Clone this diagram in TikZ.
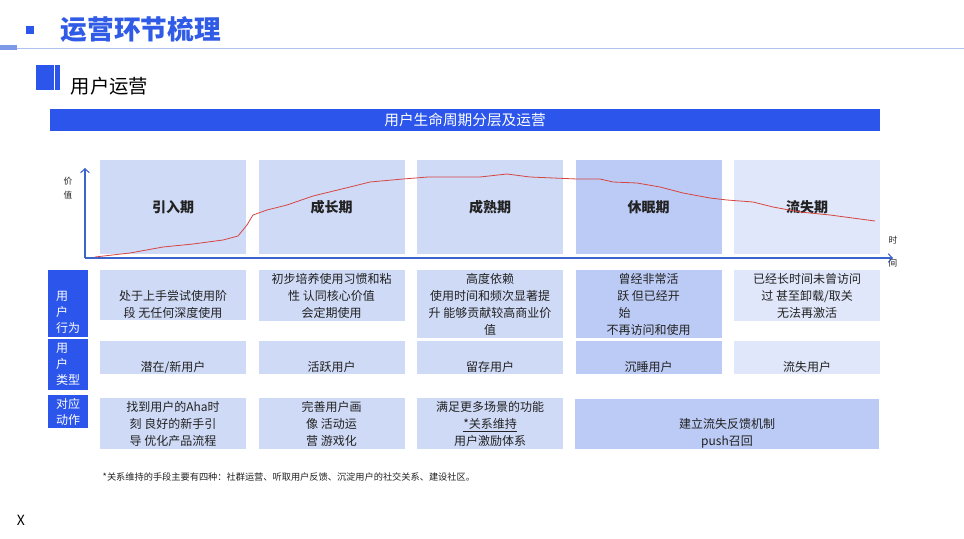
\documentclass[tikz,border=0pt]{standalone}
\usepackage{fontspec}
\setmainfont{Noto Sans CJK SC}
\usetikzlibrary{arrows.meta, positioning}
\definecolor{mainblue}{HTML}{2B55EB}
\definecolor{titleblue}{HTML}{2F5BE6}
\definecolor{softblue}{HTML}{CFDAF6}
\definecolor{dormblue}{HTML}{BCCBF5}
\definecolor{paleblue}{HTML}{E0E7FA}
\definecolor{axisblue}{HTML}{3B64CC}
\definecolor{rulegray}{HTML}{AFC2F2}
\definecolor{rulebold}{HTML}{7D9AE8}
\definecolor{curvered}{HTML}{D64541}
\definecolor{ink}{HTML}{222222}
\tikzset{
  stagebox/.style={
    rectangle, fill=softblue, draw=none,
    minimum width=109.5pt, minimum height=70.5pt,
    font=\bfseries\fontsize{10.5pt}{12pt}\selectfont, text=ink
  },
  cell/.style={
    rectangle, fill=softblue, draw=none, inner sep=0pt, anchor=north,
    minimum width=109.5pt, align=center,
    font=\fontsize{9pt}{12.75pt}\selectfont, text=ink
  },
  headcell/.style={
    rectangle, fill=mainblue, draw=none, inner sep=0pt, anchor=north,
    minimum width=30pt, text width=18pt, align=left,
    font=\fontsize{9pt}{12pt}\selectfont, text=white
  },
  axis/.style={-{Straight Barb[length=3pt,width=6.5pt]}, line width=0.8pt, draw=axisblue},
  curve/.style={line width=0.6pt, draw=curvered, line join=round},
  note/.style={font=\fontsize{6.5pt}{10.5pt}\selectfont, text=ink, align=center},
}

\begin{document}
\begin{tikzpicture}[x=0.75pt, y=-0.75pt]
  \useasboundingbox (0,0) rectangle (964,539);
  \fill[white] (0,0) rectangle (964,539);

  % page header
  \fill[mainblue] (26,26) rectangle (34,34);
  \node[anchor=west, text=titleblue, font=\bfseries\fontsize{20pt}{24pt}\selectfont] (title) at (56,29) {运营环节梳理};
  \draw[rulegray, line width=0.75pt] (17,48) -- (964,48);
  \fill[rulebold] (0,45) rectangle (17,50);
  \fill[mainblue] (36,65) rectangle (54,90);
  \fill[mainblue] (55,65) rectangle (60,90);
  \node[anchor=west, text=black, font=\fontsize{14.5pt}{17pt}\selectfont] (section) at (66,86) {用户运营};

  \node[rectangle, fill=mainblue, minimum width=622.5pt, minimum height=16.5pt, inner sep=0pt,
        text=white, font=\fontsize{11pt}{13pt}\selectfont] (banner) at (465,120) {用户生命周期分层及运营};

  % lifecycle stages
  \node[stagebox] (intro) at (173,207) {引入期};
  \node[stagebox, right=9pt of intro] (growth) {成长期};
  \node[stagebox, right=9pt of growth] (mature) {成熟期};
  \node[stagebox, fill=dormblue, right=9pt of mature] (dormant) {休眠期};
  \node[stagebox, fill=paleblue, right=9pt of dormant] (lost) {流失期};

  \coordinate (origin) at (85,258);
  \coordinate (ytop) at (85,168);
  \coordinate (xend) at (893,258);
  \draw[axis] (origin) -- (ytop);
  \draw[axis] (origin) -- (xend);
  \node[note] (vlabel) at (68,188) {价\\值};
  \node[note, font=\fontsize{6.5pt}{17pt}\selectfont] (tlabel) at (893,252) {时\\间};

  \draw[curve] plot coordinates {(95,257) (130,253) (163,247) (193,244) (223,240) (238,236)
    (247,225) (253,215) (267,210) (287,205) (313,196) (350,187) (370,182) (403,179)
    (428,177) (480,177) (507,174) (530,177) (577,179) (600,179) (613,182) (637,183)
    (660,187) (683,193) (710,198) (727,200) (753,202) (773,207) (800,212) (830,215)
    (860,219) (875,221)};

  % table rows
  \coordinate (row1) at (0,270);
  \coordinate (row2) at (0,341);
  \coordinate (row3) at (0,398);
  \coordinate (hcol) at (68,0);
  \coordinate (hrow2) at (0,339);
  \coordinate (hrow3) at (0,395);

  \node[headcell, minimum height=50.25pt] (hbehave) at (hcol |- row1) {\strut\\用\\户\\行为};
  \node[headcell, minimum height=38.25pt] (htype) at (hcol |- hrow2) {用\\户\\类型};
  \node[headcell, minimum height=24.75pt] (haction) at (hcol |- hrow3) {对应\\动作};

  \node[cell, minimum height=37.5pt] (behave1) at (intro |- row1)
    {\strut\\处于上手尝试使用阶\\段 无任何深度使用};
  \node[cell, minimum height=38.25pt] (behave2) at (growth |- row1)
    {初步培养使用习惯和粘\\性 认同核心价值\\会定期使用};
  \node[cell, minimum height=51pt] (behave3) at (mature |- row1)
    {高度依赖\\使用时间和频次显著提\\升 能够贡献较高商业价\\值};
  \node[cell, fill=dormblue, minimum height=51pt] (behave4) at (dormant |- row1)
    {曾经非常活\\跃 但已经开\\\makebox[5em][l]{始}\\不再访问和使用};
  \node[cell, fill=paleblue, minimum height=38.25pt] (behave5) at (lost |- row1)
    {已经长时间未曾访问\\过 甚至卸载/取关\\无法再激活};

  \node[cell, minimum height=24.75pt] (type1) at (intro |- row2) {\strut\\潜在/新用户};
  \node[cell, minimum height=24.75pt] (type2) at (growth |- row2) {\strut\\活跃用户};
  \node[cell, minimum height=24.75pt] (type3) at (mature |- row2) {\strut\\留存用户};
  \node[cell, fill=dormblue, minimum height=24.75pt] (type4) at (dormant |- row2) {\strut\\沉睡用户};
  \node[cell, fill=paleblue, minimum height=24.75pt] (type5) at (lost |- row2) {\strut\\流失用户};

  \node[cell, minimum height=38.25pt] (action1) at (intro |- row3)
    {找到用户的Aha时\\刻 良好的新手引\\导 优化产品流程};
  \node[cell, minimum height=38.25pt] (action2) at (growth |- row3)
    {完善用户画\\像 活动运\\营 游戏化};
  \node[cell, minimum height=38.25pt] (action3) at (mature |- row3)
    {满足更多场景的功能\\\underline{*关系维持}\\用户激励体系};
  \node[cell, fill=dormblue, minimum width=228pt, minimum height=37.5pt] (action4) at (727,399)
    {\strut\\建立流失反馈机制\\push召回};

  % footnote
  \node[anchor=west, text=ink, font=\fontsize{6.9pt}{9pt}\selectfont] (footnote) at (98,477)
    {*关系维持的手段主要有四种：社群运营、听取用户反馈、沉淀用户的社交关系、建设社区。};
  \node[text=black, font=\fontsize{10.5pt}{12pt}\selectfont] (mark) at (21,520) {X};
\end{tikzpicture}
\end{document}
